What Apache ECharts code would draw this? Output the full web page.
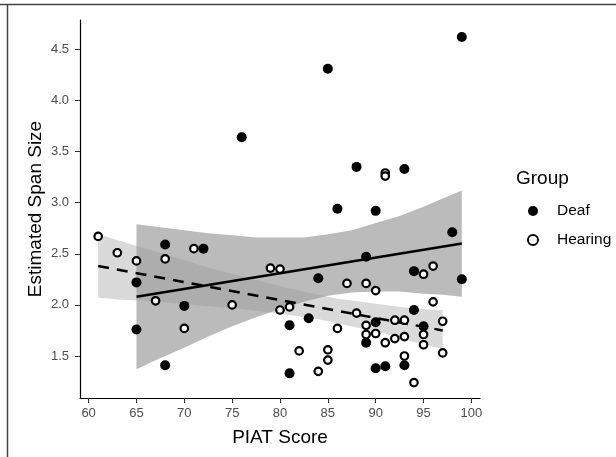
<!DOCTYPE html>
<html>
<head>
<meta charset="utf-8">
<script src="https://cdn.jsdelivr.net/npm/echarts@6/dist/echarts.min.js"></script>
<style>
  html, body { margin: 0; padding: 0; background: #fff; }
  #chart { width: 616px; height: 457px; }
</style>
</head>
<body>
<div id="chart"></div>
<script>
// points
const deafX = [65, 65, 68, 68, 70, 72, 76, 81, 81, 83, 84, 85, 86, 88, 89, 89, 90, 90, 90, 91, 93, 93, 94, 94, 95, 98, 99, 99]
const deafY = [2.22, 1.76, 2.59, 1.41, 1.99, 2.55, 3.64, 1.80, 1.33, 1.87, 2.26, 4.31, 2.94, 3.35, 2.47, 1.63, 2.92, 1.83, 1.38, 1.40, 3.33, 1.41, 2.33, 1.95, 1.79, 2.71, 4.62, 2.25]

const hearingX = [61, 63, 65, 67, 68, 70, 71, 75, 79, 80, 80, 81, 82, 84, 85, 85, 86, 87, 88, 89, 89, 89, 90, 90, 91, 91, 91, 92, 92, 93, 93, 93, 94, 95, 95, 95, 96, 96, 97, 97]
const hearingY = [2.67, 2.51, 2.43, 2.04, 2.45, 1.77, 2.55, 2.00, 2.36, 2.35, 1.95, 1.98, 1.55, 1.35, 1.56, 1.46, 1.77, 2.21, 1.92, 2.21, 1.80, 1.71, 2.14, 1.72, 3.29, 3.26, 1.63, 1.85, 1.67, 1.85, 1.69, 1.50, 1.24, 2.30, 1.71, 1.61, 2.38, 2.03, 1.84, 1.53]

// fitted lines (end points)
const deafFitX = [65, 99]
const deafFitY = [2.08, 2.60]
const hearingFitX = [61, 97]
const hearingFitY = [2.38, 1.75]

// confidence bands, edges read at these x values
const deafBandX = [65, 67.5, 70, 72.5, 75, 77.5, 80, 82.5, 85, 87.5, 90, 92.5, 95, 97, 99]
const deafBandUpper = [2.79, 2.76, 2.73, 2.70, 2.68, 2.66, 2.66, 2.66, 2.69, 2.73, 2.80, 2.87, 2.96, 3.04, 3.12]
const deafBandLower = [1.37, 1.48, 1.58, 1.69, 1.79, 1.88, 1.96, 2.03, 2.09, 2.12, 2.13, 2.13, 2.11, 2.10, 2.08]

const hearingBandX = [61, 63.5, 66, 68.5, 71, 73.5, 76, 78.5, 81, 83.5, 86, 88.5, 91, 93.5, 96, 97]
const hearingBandUpper = [2.69, 2.62, 2.55, 2.48, 2.41, 2.34, 2.28, 2.22, 2.16, 2.11, 2.06, 2.03, 2.00, 1.97, 1.95, 1.95]
const hearingBandLower = [2.07, 2.05, 2.04, 2.02, 2.00, 1.98, 1.96, 1.93, 1.90, 1.87, 1.82, 1.77, 1.72, 1.65, 1.59, 1.57]

const xTicks = [60, 65, 70, 75, 80, 85, 90, 95, 100]
const yTicks = [1.5, 2.0, 2.5, 3.0, 3.5, 4.0, 4.5]

const font = 'Liberation Sans, Arial, sans-serif'
const zip = (a, b) => a.map((v, i) => [v, b[i]])

function band(xs, lo, hi, fill) {
  return {
    type: 'custom',
    silent: true,
    clip: true,
    z: 1,
    data: xs.map((x, i) => [x, lo[i], hi[i]]),
    encode: { x: 0, y: [1, 2] },
    renderItem: (params, api) => {
      if (params.dataIndex !== 0) return
      const pts = []
      xs.forEach((x, i) => pts.push(api.coord([x, hi[i]])))
      for (let i = xs.length - 1; i >= 0; i--) pts.push(api.coord([xs[i], lo[i]]))
      return { type: 'polygon', shape: { points: pts }, style: { fill: fill } }
    }
  }
}

const chart = echarts.init(document.getElementById('chart'))

const option = {
  animation: false,
  backgroundColor: '#fff',
  textStyle: { fontFamily: font },
  grid: { left: 80, top: 20, width: 400, height: 378 },
  title: {
    text: 'Group',
    left: 511,
    top: 164,
    textStyle: { fontFamily: font, fontSize: 19, fontWeight: 'normal', color: '#000' }
  },
  legend: {
    orient: 'vertical',
    left: 522,
    top: 198,
    itemWidth: 10,
    itemHeight: 10,
    itemGap: 13,
    textStyle: { fontFamily: font, fontSize: 15.5, color: '#000', padding: [0, 0, 0, 14] },
    data: [
      { name: 'Deaf', icon: 'circle', itemStyle: { color: '#000', borderWidth: 0 } },
      { name: 'Hearing', icon: 'circle', itemStyle: { color: '#fff', borderColor: '#000', borderWidth: 2 } }
    ]
  },
  xAxis: {
    type: 'value',
    min: 59.1,
    max: 100.9,
    name: 'PIAT Score',
    nameLocation: 'middle',
    nameGap: 30,
    nameTextStyle: { fontFamily: font, fontSize: 19, color: '#000' },
    splitLine: { show: false },
    axisLine: { onZero: false, lineStyle: { color: '#000', width: 1.2 } },
    axisTick: { customValues: xTicks, length: 5, lineStyle: { color: '#333' } },
    axisLabel: { customValues: xTicks, margin: 9, fontSize: 13, color: '#4d4d4d' }
  },
  yAxis: {
    type: 'value',
    min: 1.089,
    max: 4.787,
    name: 'Estimated Span Size',
    nameLocation: 'middle',
    nameGap: 35,
    nameMoveOverlap: false,
    nameTextStyle: { fontFamily: font, fontSize: 19, color: '#000' },
    splitLine: { show: false },
    axisLine: { onZero: false, lineStyle: { color: '#000', width: 1.2 } },
    axisTick: { customValues: yTicks, length: 5, lineStyle: { color: '#333' } },
    axisLabel: { customValues: yTicks, margin: 11, fontSize: 13, color: '#4d4d4d',
      formatter: (v) => v.toFixed(1) }
  },
  graphic: [
    { type: 'line', shape: { x1: 0, y1: 4.5, x2: 616, y2: 4.5 }, style: { stroke: '#444', lineWidth: 1.5 } },
    { type: 'line', shape: { x1: 7.5, y1: 4, x2: 7.5, y2: 457 }, style: { stroke: '#444', lineWidth: 1.5 } }
  ],
  series: [
    band(deafBandX, deafBandLower, deafBandUpper, 'rgba(150,150,150,0.65)'),
    band(hearingBandX, hearingBandLower, hearingBandUpper, 'rgba(150,150,150,0.35)'),
    {
      type: 'line',
      data: zip(deafFitX, deafFitY),
      symbol: 'none',
      z: 2,
      silent: true,
      lineStyle: { color: '#000', width: 2.5 }
    },
    {
      type: 'line',
      data: zip(hearingFitX, hearingFitY),
      symbol: 'none',
      z: 2,
      silent: true,
      lineStyle: { color: '#000', width: 2.5, type: [11, 8] }
    },
    {
      name: 'Deaf',
      type: 'scatter',
      data: zip(deafX, deafY),
      symbolSize: 10,
      z: 3,
      itemStyle: { color: '#000', opacity: 1 }
    },
    {
      name: 'Hearing',
      type: 'scatter',
      data: zip(hearingX, hearingY),
      symbolSize: 7.5,
      z: 3,
      itemStyle: { color: '#fff', borderColor: '#000', borderWidth: 2.2, opacity: 1 }
    }
  ]
}

chart.setOption(option)
</script>
</body>
</html>
